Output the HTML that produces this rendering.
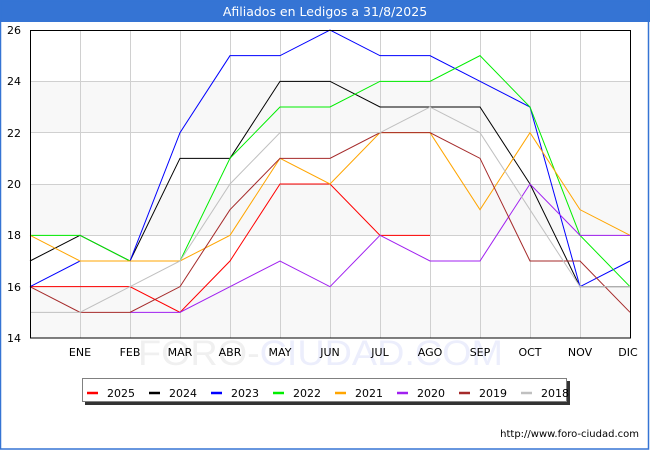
<!DOCTYPE html>
<html><head><meta charset="utf-8"><style>
html,body{margin:0;padding:0;background:#fff;}
svg{display:block;font-family:"DejaVu Sans","Liberation Sans",sans-serif;}
</style></head><body>
<svg width="650" height="450" viewBox="0 0 650 450" xmlns="http://www.w3.org/2000/svg">
<rect x="0" y="0" width="650" height="450" fill="#fff"/>
<rect x="0" y="0" width="650" height="22" fill="#3574d4"/>
<rect x="0.5" y="0.5" width="648" height="448.5" fill="none" stroke="#3574d4" stroke-width="1.5"/>
<text x="325" y="16" font-size="12.5" fill="#fff" text-anchor="middle">Afiliados en Ledigos a 31/8/2025</text>
<!-- bands -->
<rect x="30" y="81.33" width="600" height="51.33" fill="#f8f8f8"/>
<rect x="30" y="184" width="600" height="51.33" fill="#f8f8f8"/>
<rect x="30" y="286.67" width="600" height="51.33" fill="#f8f8f8"/>
<!-- grid -->
<g stroke="#d0d0d0" stroke-width="1">
<line x1="30" x2="630" y1="81.5" y2="81.5"/>
<line x1="30" x2="630" y1="132.5" y2="132.5"/>
<line x1="30" x2="630" y1="184.5" y2="184.5"/>
<line x1="30" x2="630" y1="235.5" y2="235.5"/>
<line x1="30" x2="630" y1="286.5" y2="286.5"/>
<line x1="80.5" x2="80.5" y1="30" y2="338"/>
<line x1="130.5" x2="130.5" y1="30" y2="338"/>
<line x1="180.5" x2="180.5" y1="30" y2="338"/>
<line x1="230.5" x2="230.5" y1="30" y2="338"/>
<line x1="280.5" x2="280.5" y1="30" y2="338"/>
<line x1="330.5" x2="330.5" y1="30" y2="338"/>
<line x1="380.5" x2="380.5" y1="30" y2="338"/>
<line x1="430.5" x2="430.5" y1="30" y2="338"/>
<line x1="480.5" x2="480.5" y1="30" y2="338"/>
<line x1="530.5" x2="530.5" y1="30" y2="338"/>
<line x1="580.5" x2="580.5" y1="30" y2="338"/>
</g>
<!-- watermark -->
<text x="138" y="365" font-family="Liberation Sans, sans-serif" font-size="35" textLength="365" lengthAdjust="spacingAndGlyphs"><tspan fill="#f0f0f0">FORO-</tspan><tspan fill="#eceefc">CIUDAD.COM</tspan></text>
<!-- series: 2025 first, 2018 last -->
<g fill="none" stroke-width="1" stroke-linejoin="miter">
<polyline stroke="#ff0000" points="30,286.67 80,286.67 130,286.67 180,312.33 230,261 280,184 330,184 380,235.33 430,235.33"/>
<polyline stroke="#000000" points="30,261 80,235.33 130,261 180,158.33 230,158.33 280,81.33 330,81.33 380,107 430,107 480,107 530,184 580,286.67 630,286.67"/>
<polyline stroke="#0000ff" points="30,286.67 80,261 130,261 180,132.67 230,55.67 280,55.67 330,30 380,55.67 430,55.67 480,81.33 530,107 580,286.67 630,261"/>
<polyline stroke="#00ee00" points="30,235.33 80,235.33 130,261 180,261 230,158.33 280,107 330,107 380,81.33 430,81.33 480,55.67 530,107 580,235.33 630,286.67"/>
<polyline stroke="#ffa500" points="30,235.33 80,261 130,261 180,261 230,235.33 280,158.33 330,184 380,132.67 430,132.67 480,209.67 530,132.67 580,209.67 630,235.33"/>
<polyline stroke="#a020f0" points="130,312.33 180,312.33 230,286.67 280,261 330,286.67 380,235.33 430,261 480,261 530,184 580,235.33 630,235.33"/>
<polyline stroke="#a52a2a" points="30,286.67 80,312.33 130,312.33 180,286.67 230,209.67 280,158.33 330,158.33 380,132.67 430,132.67 480,158.33 530,261 580,261 630,312.33"/>
<polyline stroke="#c0c0c0" points="30,312.33 80,312.33 130,286.67 180,261 230,184 280,132.67 330,132.67 380,132.67 430,107 480,132.67 530,209.67 580,286.67 630,286.67"/>
</g>
<!-- frame -->
<rect x="30.5" y="30.5" width="600" height="307.5" fill="none" stroke="#000" stroke-width="1"/>
<!-- y labels -->
<g font-size="11" fill="#000" text-anchor="end">
<text x="21" y="34">26</text>
<text x="21" y="85">24</text>
<text x="21" y="137">22</text>
<text x="21" y="188">20</text>
<text x="21" y="239">18</text>
<text x="21" y="291">16</text>
<text x="21" y="342">14</text>
</g>
<!-- x labels -->
<g font-size="11" fill="#000" text-anchor="middle">
<text x="80" y="356">ENE</text>
<text x="130" y="356">FEB</text>
<text x="180" y="356">MAR</text>
<text x="230" y="356">ABR</text>
<text x="280" y="356">MAY</text>
<text x="330" y="356">JUN</text>
<text x="380" y="356">JUL</text>
<text x="430" y="356">AGO</text>
<text x="480" y="356">SEP</text>
<text x="530" y="356">OCT</text>
<text x="580" y="356">NOV</text>
<text x="628" y="356">DIC</text>
</g>
<!-- legend -->
<rect x="85" y="381" width="485" height="24" fill="#333"/>
<rect x="82.5" y="378.5" width="484" height="23" fill="#fff" stroke="#808080" stroke-width="1"/>
<g stroke-width="2.5">
<line x1="87" x2="98" y1="393" y2="393" stroke="#ff0000"/>
<line x1="149" x2="160" y1="393" y2="393" stroke="#000000"/>
<line x1="211" x2="222" y1="393" y2="393" stroke="#0000ff"/>
<line x1="273" x2="284" y1="393" y2="393" stroke="#00ee00"/>
<line x1="335" x2="346" y1="393" y2="393" stroke="#ffa500"/>
<line x1="397" x2="408" y1="393" y2="393" stroke="#a020f0"/>
<line x1="459" x2="470" y1="393" y2="393" stroke="#a52a2a"/>
<line x1="521" x2="532" y1="393" y2="393" stroke="#c0c0c0"/>
</g>
<g font-size="11" fill="#000">
<text x="107" y="397">2025</text>
<text x="169" y="397">2024</text>
<text x="231" y="397">2023</text>
<text x="293" y="397">2022</text>
<text x="355" y="397">2021</text>
<text x="417" y="397">2020</text>
<text x="479" y="397">2019</text>
<text x="541" y="397">2018</text>
</g>
<text x="639" y="437" font-size="10" fill="#000" text-anchor="end">http://www.foro-ciudad.com</text>
</svg>
</body></html>
